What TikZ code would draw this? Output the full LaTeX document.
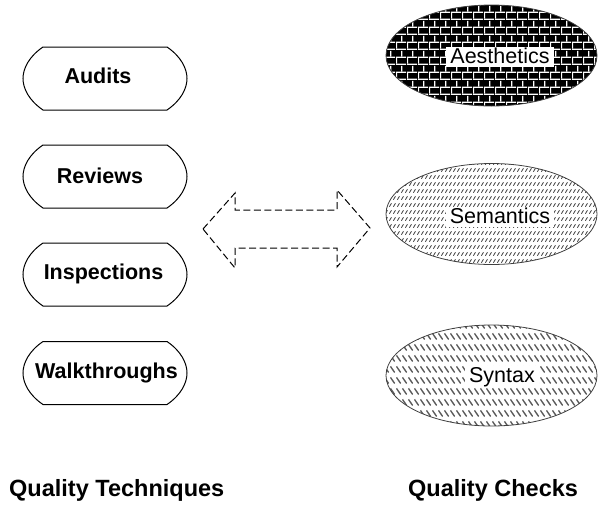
\documentclass[tikz,border=0pt]{standalone}
\usepackage{fontspec}
\setmainfont{Liberation Sans}
\usetikzlibrary{patterns.meta,shapes.geometric}

% white mortar lines of a brick wall (drawn over a black fill)
\tikzdeclarepattern{
  name=brickwall, type=uncolored,
  bounding box={(0pt,0pt) and (11pt,14.6pt)},
  tile size={(11pt,14.6pt)},
  code={
    \fill (0pt,0pt) rectangle (11pt,1.3pt);
    \fill (0pt,7.3pt) rectangle (11pt,8.6pt);
    \fill (0pt,1.3pt) rectangle (1.3pt,7.3pt);
    \fill (5.5pt,8.6pt) rectangle (6.8pt,14.6pt);
  }}

% rows of short forward strokes
\tikzdeclarepattern{
  name=slashrows, type=uncolored,
  bounding box={(0pt,0pt) and (3.5pt,7.3pt)},
  tile size={(3.5pt,7.3pt)},
  code={
    \draw[line width=0.85pt] (0.5pt,1.4pt) -- (2.8pt,5.2pt);
  }}

% rows of longer backward strokes
\tikzdeclarepattern{
  name=backslashrows, type=uncolored,
  bounding box={(0pt,0pt) and (6pt,10.6pt)},
  tile size={(6pt,10.6pt)},
  code={
    \draw[line width=1.5pt] (0.6pt,8.8pt) -- (5.4pt,2.6pt);
  }}

\begin{document}
\begin{tikzpicture}[x=1pt,y=-1pt,
  boxline/.style={draw=black, line width=1pt},
  techbox/.pic={
    \draw[boxline] (-62,-31.5) -- (62,-31.5)
      .. controls (76,-22) and (82,-10) .. (82,0)
      .. controls (82,10) and (76,22) .. (62,31.5)
      -- (-62,31.5)
      .. controls (-76,22) and (-82,10) .. (-82,0)
      .. controls (-82,-10) and (-76,-22) .. (-62,-31.5) -- cycle;
  },
  techlabel/.style={inner sep=0pt, anchor=base,
    font=\fontsize{21.5}{24}\selectfont\bfseries},
  checkshape/.style={ellipse, inner sep=0pt,
    minimum width=211pt, minimum height=101pt},
  outline/.style={draw=black!75, line width=0.8pt},
  checklabel/.style={fill=white, anchor=base, inner xsep=4pt, inner ysep=1pt,
    text height=15.5pt, text depth=2.5pt,
    font=\fontsize{21.5}{24}\selectfont},
  dasharrow/.style={draw=black, line width=1pt, dash pattern=on 7pt off 3.5pt},
  caption/.style={inner sep=0pt, anchor=base west,
    font=\fontsize{23.5}{27}\selectfont\bfseries}
]
\useasboundingbox (0,0) rectangle (599,504);

% quality techniques
\pic at (105,78.5) {techbox};
\pic at (105,176.5) {techbox};
\pic at (105,274.5) {techbox};
\pic at (105,373) {techbox};
\node[techlabel] (audits) at (98,83) {Audits};
\node[techlabel] (reviews) at (100,183) {Reviews};
\node[techlabel] (inspections) at (103.5,279) {Inspections};
\node[techlabel] (walkthroughs) at (106.5,378) {Walkthroughs};

% quality checks
\node[checkshape, fill=black,
  postaction={pattern=brickwall, pattern color=white},
  postaction={outline}] (aesthetics) at (491.5,55.5) {};
\node[checkshape, fill=white,
  postaction={pattern=slashrows, pattern color=black!80},
  postaction={outline}] (semantics) at (491.5,214) {};
\node[checkshape, fill=white,
  postaction={pattern=backslashrows, pattern color=black!65},
  postaction={outline}] (syntax) at (491.5,375.5) {};
\node[checklabel] (aestheticslabel) at (500,63) {Aesthetics};
\node[checklabel] (semanticslabel) at (500,223) {Semantics};
\node[checklabel] (syntaxlabel) at (502,382) {Syntax};

% two-way relation between techniques and checks
\draw[dasharrow] (203,229) -- (235,193) -- (235,210) -- (337,210)
  -- (337,190) -- (370,228) -- (337,267) -- (337,248) -- (235,248)
  -- (235,268) -- cycle;

% column captions
\node[caption] (techcaption) at (9,496) {Quality Techniques};
\node[caption] (checkcaption) at (408,496) {Quality Checks};
\end{tikzpicture}
\end{document}
